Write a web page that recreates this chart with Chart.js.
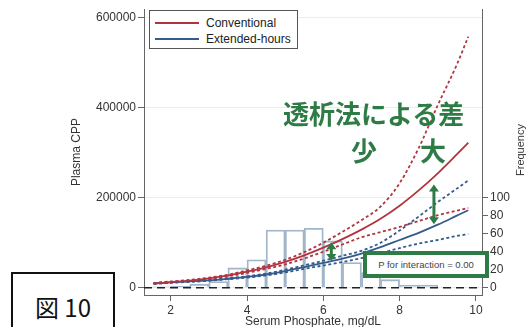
<!DOCTYPE html>
<html>
<head>
<meta charset="utf-8">
<script src="https://cdn.jsdelivr.net/npm/chart.js@4"></script>
<style>
  body { margin: 0; background: #fff; }
  #wrap { position: relative; width: 529px; height: 327px; overflow: hidden; font-family: "Liberation Sans", Arial, sans-serif; }
  #c { position: absolute; left: 0; top: 0; }
  .ov { position: absolute; white-space: nowrap; }
  .green { color: #2f7b46; font-family: "Noto Sans CJK JP", sans-serif; font-weight: bold; }
  #legend { left: 149px; top: 10px; width: 149px; height: 39px; box-sizing: border-box; border: 1px solid #555; background: #fff; }
  #legend .ln { position: absolute; left: 5px; width: 44px; height: 2px; }
  #legend .tx { position: absolute; left: 56px; font-size: 12px; color: #222; line-height: 14px; }
  #pbox { left: 363px; top: 251px; width: 126px; height: 27px; box-sizing: border-box; border: 4px solid #2f7b46; background: #fff; font-size: 9.5px; color: #444; text-align: center; line-height: 19px; }
  #fig { left: 11px; top: 272px; width: 104px; height: 70px; box-sizing: border-box; border: 2px solid #111; background: #fff; }
  #fig span { position: absolute; left: 0; width: 100%; top: 19px; text-align: center; font-family: "Noto Sans CJK JP", sans-serif; font-size: 24px; line-height: 28px; color: #111; }
  #freq { left: 520px; top: 150px; transform: translate(-50%, -50%) rotate(-90deg); font-size: 11px; color: #333; }
</style>
</head>
<body>
<div id="wrap">
  <canvas id="c" width="529" height="327"></canvas>
  <div id="legend" class="ov">
    <div class="ln" style="top:11px;background:#b2343f"></div>
    <div class="tx" style="top:5px">Conventional</div>
    <div class="ln" style="top:27px;background:#345b8c"></div>
    <div class="tx" style="top:21px">Extended-hours</div>
  </div>
  <div id="freq" class="ov">Frequency</div>
  <div class="ov green" style="left:283px;top:99px;font-size:26px;line-height:28px">透析法による差</div>
  <div class="ov green" style="left:351px;top:136px;font-size:26px;line-height:28px">少</div>
  <div class="ov green" style="left:420px;top:136px;font-size:26px;line-height:28px">大</div>
  <div id="pbox" class="ov">P for interaction = 0.00</div>
  <div id="fig" class="ov"><span>図 10</span></div>
</div>
<script>
// fitted curves (Plasma CPP) by serum phosphate
const curveX = [1.55, 2, 2.5, 3, 3.5, 4, 4.5, 5, 5.5, 6, 6.5, 7, 7.5, 8, 8.5, 9, 9.5, 9.8];
const convFit = [9500, 12500, 16000, 21000, 27500, 36000, 45500, 57500, 72000, 89000, 108000, 129000, 153000, 182000, 216000, 254000, 296000, 322000];
const convHi = [10500, 14000, 17500, 22500, 29000, 38500, 49000, 62000, 79000, 100000, 124000, 150000, 180000, 232000, 310000, 405000, 495000, 557000];
const convLo = [8800, 11500, 15000, 19500, 25500, 33000, 42000, 52000, 65000, 80000, 96000, 112000, 123500, 135000, 148000, 161000, 171000, 177000];
const extFit = [9500, 12000, 14000, 16500, 20000, 24000, 29500, 37000, 46000, 55000, 64500, 76000, 90000, 106000, 122000, 140000, 160000, 172000];
const extHi = [10500, 13000, 15000, 17500, 21500, 25500, 31500, 40000, 50000, 60000, 71000, 82000, 100000, 127000, 158000, 190000, 220000, 238000];
const extLo = [8800, 11000, 13000, 15500, 19000, 22500, 27500, 34000, 42000, 49500, 57000, 66000, 77000, 88000, 98000, 106000, 115000, 119000];

// histogram of serum phosphate (0.5 mg/dL bins)
const binCenters = [1.75, 2.25, 2.75, 3.25, 3.75, 4.25, 4.75, 5.25, 5.75, 6.25, 6.75, 7.25, 7.75, 8.25, 8.75];
const binCounts = [1, 2, 4, 7, 22, 31, 64, 64, 66, 52, 28, 17, 9, 3, 3];

// axis ticks
const xTicks = [2, 4, 6, 8, 10];
const yTicks = [0, 200000, 400000, 600000];
const freqTicks = [0, 20, 40, 60, 80, 100];

// double arrows showing the gap between the two groups
const arrowX = [6.21, 8.9];
const arrowTop = [101000, 229000];
const arrowBottom = [59400, 141000];

const RED = '#b2343f';
const BLUE = '#345b8c';
const GREEN = '#2f7b46';

Chart.defaults.font.family = '"Liberation Sans", Arial, sans-serif';
Chart.defaults.color = '#333';

function pts(ys) {
  return curveX.map((x, i) => ({ x: x, y: ys[i] }));
}

function line(ys, color, dotted) {
  return {
    type: 'line',
    data: pts(ys),
    borderColor: color,
    borderWidth: 1.8,
    borderDash: dotted ? [3, 2.5] : [],
    pointRadius: 0,
    cubicInterpolationMode: 'monotone',
    yAxisID: 'y',
    order: dotted ? 2 : 1
  };
}

const arrows = {
  id: 'arrows',
  afterDatasetsDraw(chart) {
    const ctx = chart.ctx;
    const x = chart.scales.x, y = chart.scales.y;
    ctx.save();
    ctx.strokeStyle = GREEN;
    ctx.fillStyle = GREEN;
    ctx.lineWidth = 3;
    arrowX.forEach((v, i) => {
      const px = x.getPixelForValue(v);
      const top = y.getPixelForValue(arrowTop[i]);
      const bot = y.getPixelForValue(arrowBottom[i]);
      ctx.beginPath();
      ctx.moveTo(px, top + 5);
      ctx.lineTo(px, bot - 5);
      ctx.stroke();
      ctx.beginPath();
      ctx.moveTo(px, top);
      ctx.lineTo(px - 5, top + 7);
      ctx.lineTo(px + 5, top + 7);
      ctx.closePath();
      ctx.fill();
      ctx.beginPath();
      ctx.moveTo(px, bot);
      ctx.lineTo(px - 5, bot - 7);
      ctx.lineTo(px + 5, bot - 7);
      ctx.closePath();
      ctx.fill();
    });
    ctx.restore();
  }
};

new Chart(document.getElementById('c'), {
  type: 'line',
  data: {
    datasets: [
      line(convFit, RED, false),
      line(convHi, RED, true),
      line(convLo, RED, true),
      line(extFit, BLUE, false),
      line(extHi, BLUE, true),
      line(extLo, BLUE, true),
      {
        type: 'line',
        data: [{ x: 1.3, y: 0 }, { x: 10.16, y: 0 }],
        borderColor: '#222',
        borderWidth: 1.5,
        borderDash: [8, 5],
        pointRadius: 0,
        yAxisID: 'y',
        order: 3
      },
      {
        type: 'bar',
        data: binCenters.map((x, i) => ({ x: x, y: binCounts[i] })),
        backgroundColor: 'rgba(255,255,255,0)',
        borderColor: '#a3b5c8',
        borderWidth: 1.2,
        barPercentage: 1,
        categoryPercentage: 1,
        yAxisID: 'y2',
        order: 10
      }
    ]
  },
  options: {
    responsive: false,
    animation: false,
    events: [],
    layout: { padding: { left: 69, top: 6, right: 0, bottom: 0 } },
    plugins: { legend: { display: false }, tooltip: { enabled: false } },
    scales: {
      x: {
        type: 'linear',
        min: 1.3,
        max: 10.16,
        offset: false,
        afterBuildTicks: s => { s.ticks = xTicks.map(v => ({ value: v })); },
        afterFit: s => { s.height = 32; },
        grid: { offset: false, drawOnChartArea: false, tickLength: 6, tickColor: '#666' },
        border: { color: '#666' },
        ticks: { font: { size: 12 }, padding: 2, maxRotation: 0 },
        title: { display: true, text: 'Serum Phosphate, mg/dL', font: { size: 12 }, padding: { top: 0, bottom: -2 } }
      },
      y: {
        position: 'left',
        min: -16000,
        max: 618000,
        afterBuildTicks: s => { s.ticks = yTicks.map(v => ({ value: v })); },
        afterFit: s => { s.width = 75; },
        grid: { color: '#ececec', tickLength: 6, tickColor: '#666' },
        border: { color: '#666' },
        ticks: { font: { size: 12 }, padding: 2, callback: v => String(v) },
        title: { display: true, text: 'Plasma CPP', font: { size: 12 }, padding: { top: 0, bottom: 0 } }
      },
      y2: {
        position: 'right',
        min: -8,
        max: 309,
        afterBuildTicks: s => { s.ticks = freqTicks.map(v => ({ value: v })); },
        afterFit: s => { s.width = 47; },
        grid: { drawOnChartArea: false, tickLength: 6, tickColor: '#666' },
        border: { color: '#666' },
        ticks: { font: { size: 12 }, padding: 2, callback: v => String(v) }
      }
    }
  },
  plugins: [arrows]
});
</script>
</body>
</html>
